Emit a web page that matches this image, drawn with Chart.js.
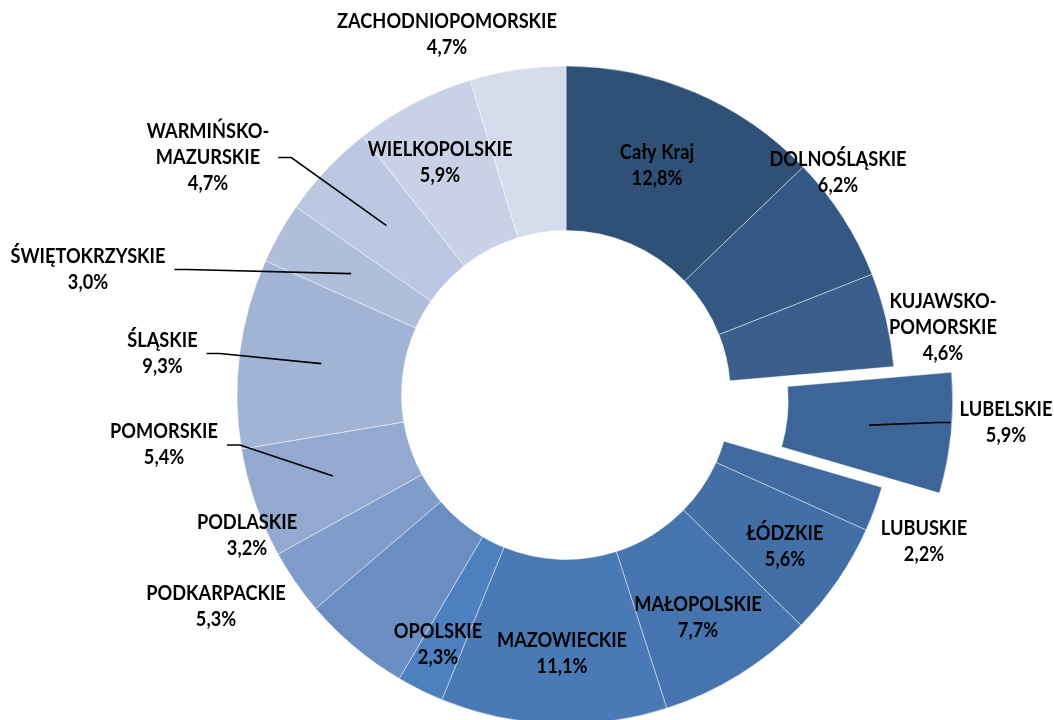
<!DOCTYPE html>
<html><head><meta charset="utf-8">
<script src="https://cdn.jsdelivr.net/npm/chart.js@4.4.0/dist/chart.umd.min.js"></script>
<style>html,body{margin:0;padding:0;background:#fff;overflow:hidden}canvas{display:block}</style>
</head><body>
<canvas id="c" width="1054" height="720"></canvas>
<script>
// ---- data ----
const categories = ['Cały Kraj','DOLNOŚLĄSKIE','KUJAWSKO-POMORSKIE','LUBELSKIE','LUBUSKIE','ŁÓDZKIE','MAŁOPOLSKIE','MAZOWIECKIE','OPOLSKIE','PODKARPACKIE','PODLASKIE','POMORSKIE','ŚLĄSKIE','ŚWIĘTOKRZYSKIE','WARMIŃSKO-MAZURSKIE','WIELKOPOLSKIE','ZACHODNIOPOMORSKIE'];
const values = [12.8, 6.2, 4.6, 5.9, 2.2, 5.6, 7.7, 11.1, 2.3, 5.3, 3.2, 5.4, 9.3, 3.0, 4.7, 5.9, 4.7];

// ---- styles / layout ----
const colors = ['#2F5077','#345884','#3A5F8D','#3D6698','#406AA0','#436FA7','#4674AE','#4A7AB5','#4C80BE','#6A8EC2','#7F9CCA','#93A9D0','#A2B4D6','#AFBEDB','#BCC8E1','#C8D1E6','#D5DCEB'];
const explode = [0,0,0,58,0,0,0,0,0,0,0,0,0,0,0,0,0];
// label block centre relative to the pie centre
const labelOffsets = [[91,-229.5],[272,-222],[377,-67],[440,27.5],[358,146.5],[219,151.5],[132,222.5],[-4,258.5],[-128,250],[-350,212],[-319,140.5],[-402,50],[-403.5,-41.5],[-478,-125.5],[-358,-237.5],[-126,-232],[-119,-360]];
const hasLeader = [0,0,0,1,0,0,0,0,0,0,0,1,1,1,1,0,0];
const FONT = 'bold 20px Lato, "Open Sans", sans-serif';
const SCALE_X = 0.91;
const LINE_H = 26;

function pieCentre(chart){
  const a = chart.chartArea;
  return {x:(a.left+a.right)/2, y:(a.top+a.bottom)/2};
}

const explodePlugin = {
  id:'explode',
  beforeDatasetsDraw(chart){
    const c = pieCentre(chart);
    chart.getDatasetMeta(0).data.forEach((el,i)=>{
      const d = explode[i]||0;
      const mid = (el.startAngle+el.endAngle)/2;
      el.x = c.x + Math.cos(mid)*d;
      el.y = c.y + Math.sin(mid)*d;
    });
  }
};

function labelLines(i){
  const name = categories[i];
  const h = name.indexOf('-');
  const parts = h>0 ? [name.slice(0,h+1), name.slice(h+1)] : [name];
  parts.push(values[i].toFixed(1).replace('.',',')+'%');
  return parts;
}

const labelPlugin = {
  id:'labels',
  afterDatasetsDraw(chart){
    const ctx = chart.ctx;
    const c = pieCentre(chart);
    ctx.save();
    ctx.font = FONT;
    ctx.textAlign = 'center';
    ctx.textBaseline = 'middle';
    chart.getDatasetMeta(0).data.forEach((el,i)=>{
      const lines = labelLines(i);
      const lx = c.x + labelOffsets[i][0];
      const ly = c.y + labelOffsets[i][1];
      const maxW = Math.max(...lines.map(t=>ctx.measureText(t).width))*SCALE_X;
      if (hasLeader[i]) {
        const mid = (el.startAngle+el.endAngle)/2;
        const r = (el.innerRadius+el.outerRadius)/2;
        const px = el.x + Math.cos(mid)*r;
        const py = el.y + Math.sin(mid)*r;
        const dir = px > lx ? 1 : -1;
        const sx = lx + dir*(maxW/2 + 9);
        const sy = ly;
        ctx.beginPath();
        ctx.moveTo(sx, sy);
        ctx.lineTo(sx + dir*13, sy);
        ctx.lineTo(px, py);
        ctx.strokeStyle = '#000';
        ctx.lineWidth = 1.6;
        ctx.stroke();
      }
      ctx.fillStyle = '#000';
      const y0 = ly - (lines.length-1)*LINE_H/2;
      lines.forEach((t,k)=>{
        ctx.save();
        ctx.translate(lx, y0 + k*LINE_H);
        ctx.scale(SCALE_X, 1);
        ctx.fillText(t, 0, 0);
        ctx.restore();
      });
    });
    ctx.restore();
  }
};

new Chart(document.getElementById('c'), {
  type:'doughnut',
  data:{
    labels: categories,
    datasets:[{
      data: values,
      backgroundColor: colors,
      borderColor: 'rgba(255,255,255,0.55)',
      borderWidth: 0.8
    }]
  },
  options:{
    responsive:false,
    animation:false,
    events:[],
    radius: 329,
    cutout:'50%',
    layout:{padding:{left:78, right:0, top:70, bottom:0}},
    plugins:{legend:{display:false}, tooltip:{enabled:false}}
  },
  plugins:[explodePlugin, labelPlugin]
});
</script>
</body></html>
